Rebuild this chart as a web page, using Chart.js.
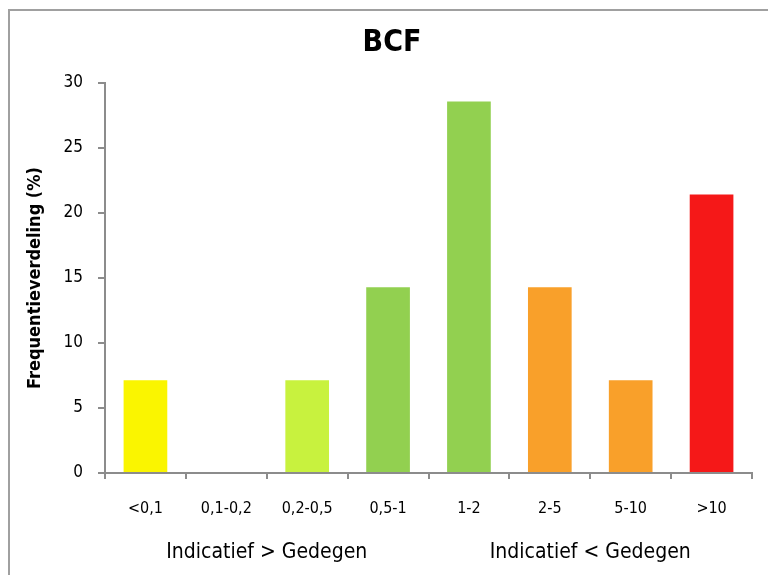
<!DOCTYPE html>
<html>
<head>
<meta charset="utf-8">
<script src="https://cdn.jsdelivr.net/npm/chart.js@4/dist/chart.umd.min.js"></script>
<style>
  html, body { margin: 0; padding: 0; background: #ffffff; }
  #wrap { position: relative; width: 768px; height: 575px; }
</style>
</head>
<body>
<div id="wrap"><canvas id="c" width="768" height="575"></canvas></div>
<script>
// BCF frequency distribution per ratio class
const categories = ['<0,1', '0,1-0,2', '0,2-0,5', '0,5-1', '1-2', '2-5', '5-10', '>10'];
const frequencies = [7.14, 0, 7.14, 14.29, 28.57, 14.29, 7.14, 21.43];
const barColors = ['#FAF500', '#FAF500', '#C8F23E', '#92D050', '#92D050', '#F9A02A', '#F9A02A', '#F51818'];
const yTicks = [0, 5, 10, 15, 20, 25, 30];
const groupLabels = [
  { text: 'Indicatief > Gedegen', between: [1, 2] },
  { text: 'Indicatief < Gedegen', between: [5, 6] }
];
const chartTitle = 'BCF';
const yTitle = 'Frequentieverdeling (%)';

const FONT = '"DejaVu Sans Condensed", "Liberation Sans Narrow", sans-serif';
const AXIS_GREY = '#8c8c8c';

// Frame, title, rotated y title and the two group captions under the axis
const decorations = {
  id: 'decorations',
  beforeDraw(chart) {
    const ctx = chart.ctx;
    ctx.save();
    ctx.strokeStyle = '#a0a0a0';
    ctx.lineWidth = 2;
    ctx.strokeRect(9, 10, 800, 600);
    ctx.restore();
  },
  afterDraw(chart) {
    const ctx = chart.ctx;
    const area = chart.chartArea;
    const xs = chart.scales.x;
    ctx.save();
    ctx.fillStyle = '#000000';
    ctx.textAlign = 'center';
    ctx.textBaseline = 'middle';

    ctx.font = 'bold 30px ' + FONT;
    ctx.fillText(chartTitle, 392, 43);

    ctx.save();
    ctx.translate(35, (area.top + area.bottom) / 2);
    ctx.rotate(-Math.PI / 2);
    ctx.font = 'bold 18px ' + FONT;
    ctx.fillText(yTitle, 0, 0);
    ctx.restore();

    ctx.font = '21px ' + FONT;
    groupLabels.forEach(g => {
      const x = (xs.getPixelForValue(g.between[0]) + xs.getPixelForValue(g.between[1])) / 2;
      ctx.fillText(g.text, x, 553);
    });
    ctx.restore();
  }
};

new Chart(document.getElementById('c'), {
  type: 'bar',
  data: {
    labels: categories,
    datasets: [{
      data: frequencies,
      backgroundColor: barColors,
      borderWidth: 0,
      categoryPercentage: 1,
      barPercentage: 0.54
    }]
  },
  options: {
    responsive: false,
    animation: false,
    layout: { padding: { left: 0, top: 83, right: 16, bottom: 0 } },
    plugins: {
      legend: { display: false },
      tooltip: { enabled: false },
      title: { display: false }
    },
    scales: {
      x: {
        grid: {
          offset: true,
          drawOnChartArea: false,
          drawTicks: true,
          tickLength: 6,
          color: AXIS_GREY,
          lineWidth: 2
        },
        border: { color: AXIS_GREY, width: 2 },
        ticks: {
          color: '#000000',
          padding: 20,
          maxRotation: 0,
          font: { family: FONT, size: 16 }
        },
        afterFit(scale) { scale.height = 102; }
      },
      y: {
        min: 0,
        max: 30,
        afterBuildTicks(scale) { scale.ticks = yTicks.map(v => ({ value: v })); },
        grid: {
          drawOnChartArea: false,
          drawTicks: true,
          tickLength: 7,
          color: AXIS_GREY,
          lineWidth: 2
        },
        border: { color: AXIS_GREY, width: 2 },
        ticks: {
          color: '#000000',
          padding: 15,
          font: { family: FONT, size: 17 }
        },
        afterFit(scale) { scale.width = 105; }
      }
    }
  },
  plugins: [decorations]
});
</script>
</body>
</html>
